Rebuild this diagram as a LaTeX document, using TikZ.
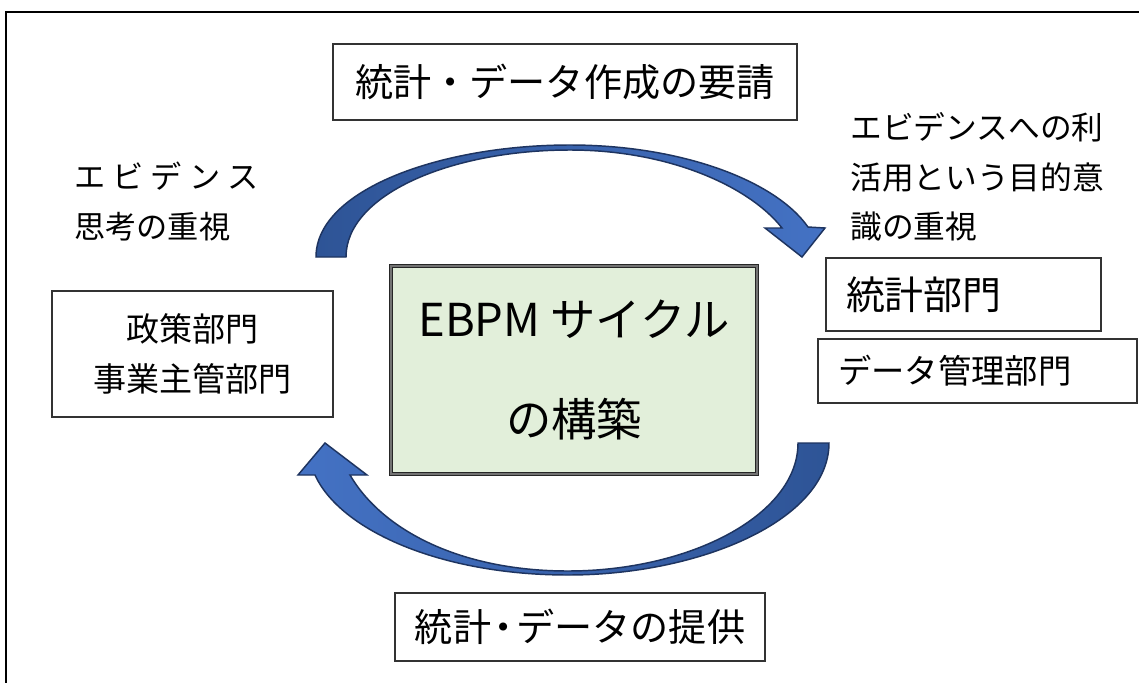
\documentclass[tikz,border=0pt]{standalone}
\usepackage{fontspec}
\setmainfont{Noto Sans CJK JP}
\definecolor{arrowdark}{RGB}{46,84,150}
\definecolor{arrowlight}{RGB}{68,114,196}
\definecolor{arrowline}{RGB}{30,52,96}
\definecolor{boxgreen}{RGB}{226,239,218}
\newcommand\gapj{\hspace{5.3pt}}
\tikzset{
  plainbox/.style={draw=black!80, line width=0.9pt, fill=white, inner sep=0pt, align=center},
  cyclebox/.style={draw=black!85, line width=0.9pt, double=black!55, double distance=1.1pt, fill=boxgreen, inner sep=0pt, align=center},
  label/.style={inner sep=0pt, align=left},
  blockarrow/.style={draw=arrowline, line width=1.1pt, line join=miter}
}
\begin{document}
\begin{tikzpicture}[x=0.75pt,y=-0.75pt]
\useasboundingbox (0,0) rectangle (1139,682);
\clip (0,0) rectangle (1139,682);
\fill[white] (0,0) rectangle (1139,682);
% outer frame (runs past the right and bottom edges)
\draw[line width=1.3pt] (6,700) -- (6,12) -- (1160,12);

% boxes
\node[plainbox, minimum width=348pt, minimum height=57pt, font=\fontsize{28.6pt}{32pt}\selectfont] (req) at (565,82) {統計・データ作成の要請};
\node[plainbox, minimum width=277.5pt, minimum height=51pt, font=\fontsize{28.6pt}{32pt}\selectfont] (prov) at (580,627) {統計\hspace{-0.17em}・\hspace{-0.17em}データの提供};
\node[plainbox, minimum width=210.75pt, minimum height=94.5pt, font=\fontsize{24.8pt}{37.5pt}\selectfont] (policy) at (192.5,354) {政策部門\\事業主管部門};
\node[cyclebox, minimum width=274.5pt, minimum height=156pt, font=\fontsize{34pt}{75pt}\selectfont] (cycle) at (574,370) {EBPM サイクル\\[0pt]の構築};
\node[plainbox, align=left, inner xsep=15pt, text width=176.25pt, minimum height=54.75pt, font=\fontsize{29.2pt}{32pt}\selectfont] (stat) at (963.5,294.5) {統計部門};
\node[plainbox, align=left, inner xsep=15pt, text width=209.25pt, minimum height=48pt, font=\fontsize{25pt}{30pt}\selectfont] (datamgmt) at (977.5,371) {データ管理部門};

% free labels
\node[label, anchor=west, font=\fontsize{23.4pt}{36.8pt}\selectfont] (evL) at (74,201.5) {エ\gapj ビ\gapj デ\gapj ン\gapj ス\\思考の重視};
\node[label, anchor=west, font=\fontsize{23.8pt}{37.1pt}\selectfont] (evR) at (850,177) {エビデンスへの利\\活用という目的意\\識の重視};

% upper curved block arrow (left to right)
\path[blockarrow, left color=arrowdark, right color=arrowlight]
  (316,257) .. controls (316,190) and (440,145) .. (570,145)
  .. controls (680,145) and (775,180) .. (808,227)
  -- (825,228) -- (802,257) -- (765,228) -- (782,228)
  .. controls (750,187) and (670,150) .. (570,150)
  .. controls (450,150) and (346,195) .. (346,257) -- cycle;

% lower curved block arrow (right to left)
\path[blockarrow, left color=arrowlight, right color=arrowdark]
  (829,443) .. controls (829,520) and (700,575) .. (568,575)
  .. controls (440,575) and (340,530) .. (315,475)
  -- (298,475) -- (325,443) -- (367,475) -- (350,475)
  .. controls (382,530) and (460,571) .. (568,571)
  .. controls (690,571) and (798,515) .. (798,443) -- cycle;
\end{tikzpicture}
\end{document}
